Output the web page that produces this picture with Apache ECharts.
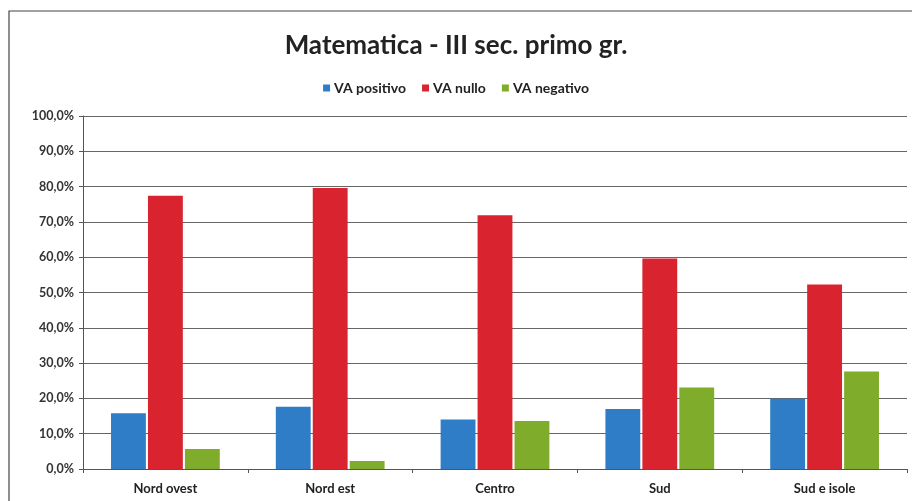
<!DOCTYPE html>
<html>
<head>
<meta charset="utf-8">
<script src="https://cdn.jsdelivr.net/npm/echarts@6/dist/echarts.min.js"></script>
<style>
  html, body { margin: 0; padding: 0; background: #fff; }
  #chart { width: 912px; height: 501px; }
</style>
</head>
<body>
<div id="chart"></div>
<script>
// Regions and percentage shares per value-added class
const categories = ['Nord ovest', 'Nord est', 'Centro', 'Sud', 'Sud e isole'];
const vaPositivo = [15.8, 17.6, 14.0, 17.0, 19.9];
const vaNullo = [77.4, 79.6, 71.9, 59.6, 52.3];
const vaNegativo = [5.7, 2.3, 13.6, 23.1, 27.6];
const seriesNames = ['VA positivo', 'VA nullo', 'VA negativo'];

const FONT = 'Lato, "Open Sans", sans-serif';
const chart = echarts.init(document.getElementById('chart'));

function bar(name, data, color) {
  return {
    name: name,
    type: 'bar',
    data: data,
    barGap: '6%',
    barCategoryGap: '34%',
    itemStyle: { color: color },
    animation: false
  };
}

chart.setOption({
  backgroundColor: '#fff',
  graphic: [{
    type: 'rect',
    shape: { x: 9, y: 11, width: 920, height: 520 },
    style: { fill: 'none', stroke: '#444', lineWidth: 1.2 },
    silent: true
  }],
  title: {
    text: 'Matematica - III sec. primo gr.',
    left: 'center',
    top: 28,
    textStyle: { fontFamily: FONT, fontWeight: 'bold', fontSize: 26, color: '#222' }
  },
  legend: {
    data: seriesNames,
    top: 76,
    left: 'center',
    itemWidth: 7,
    itemHeight: 7,
    itemGap: 16,
    icon: 'rect',
    textStyle: { fontFamily: FONT, fontSize: 14, fontWeight: 'bold', color: '#222', padding: [0, 0, 0, -1] }
  },
  grid: { left: 83, right: 5, top: 116, bottom: 32, containLabel: false },
  xAxis: {
    type: 'category',
    data: categories,
    axisLine: { lineStyle: { color: '#555', width: 1 } },
    axisTick: { show: true, alignWithLabel: false, length: 4, lineStyle: { color: '#555' } },
    axisLabel: { fontFamily: FONT, fontSize: 13, fontWeight: 'bold', color: '#222', margin: 13 }
  },
  yAxis: {
    type: 'value',
    min: 0,
    max: 100,
    interval: 10,
    axisLine: { show: true, lineStyle: { color: '#555', width: 1 } },
    axisTick: { show: true, length: 4, lineStyle: { color: '#555' } },
    axisLabel: {
      fontFamily: FONT, fontSize: 12.5, color: '#333', fontWeight: 'bold', margin: 9,
      formatter: v => v.toFixed(1).replace('.', ',') + '%'
    },
    splitLine: { lineStyle: { color: '#666', width: 1 } }
  },
  series: [
    bar(seriesNames[0], vaPositivo, '#2F7DC6'),
    bar(seriesNames[1], vaNullo, '#D9232F'),
    bar(seriesNames[2], vaNegativo, '#80AC2B')
  ]
});
</script>
</body>
</html>
